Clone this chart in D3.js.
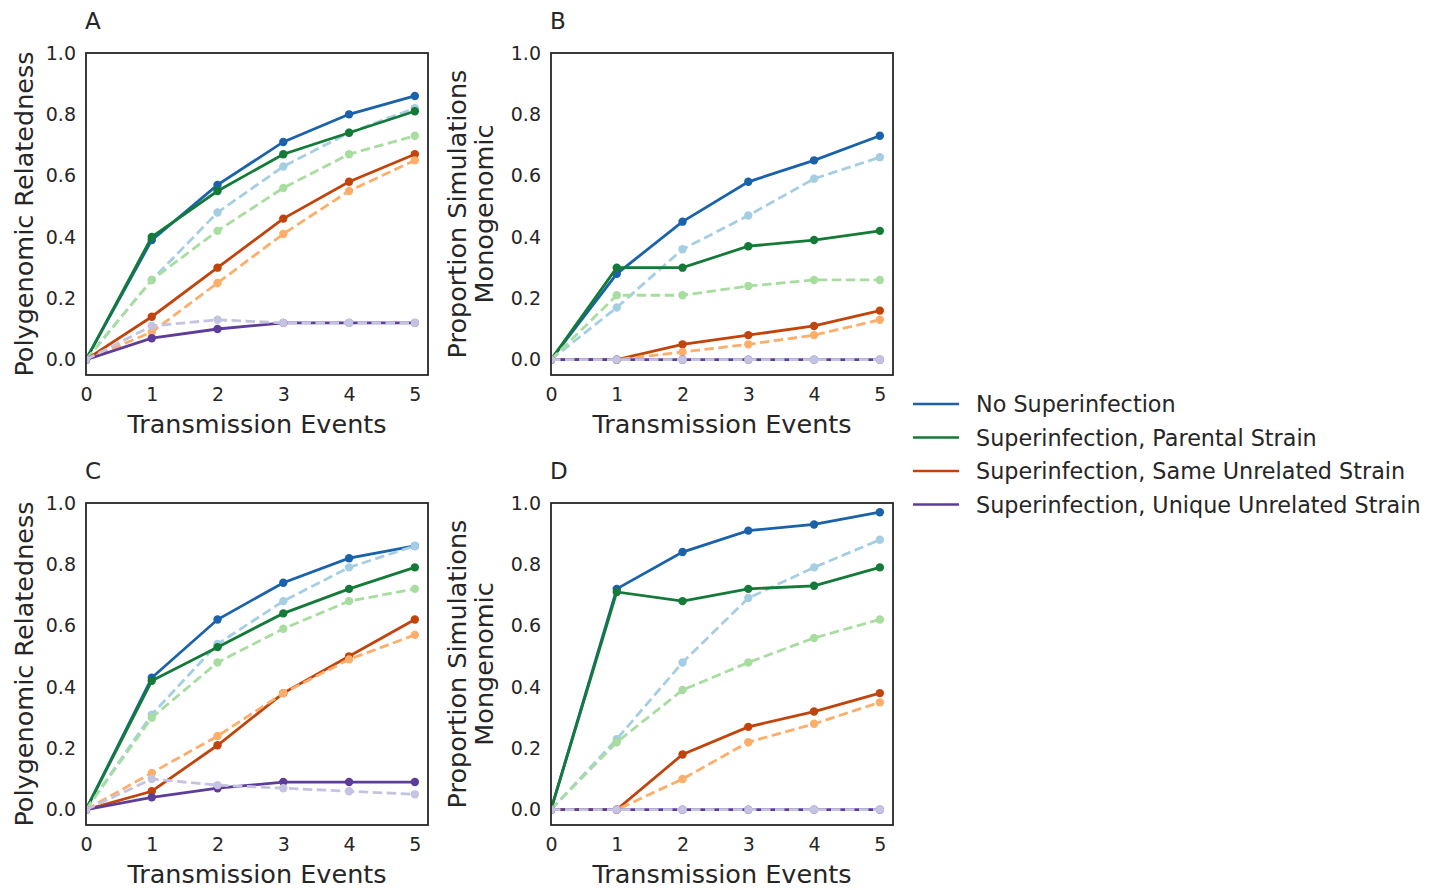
<!DOCTYPE html>
<html>
<head>
<meta charset="utf-8">
<script src="https://cdn.jsdelivr.net/npm/d3@7"></script>
<style>
  body { margin: 0; background: #fff; }
  svg text { font-family: "DejaVu Sans", sans-serif; fill: #262626; }
</style>
</head>
<body>
<div id="chart"></div>
<script>
// Transmission events on x, four superinfection scenarios per panel

const steps = [0, 1, 2, 3, 4, 5];
const xTicks = [0, 1, 2, 3, 4, 5];
const yTicks = [0, 0.2, 0.4, 0.6, 0.8, 1.0];

const scenarios = [
    "No Superinfection",
    "Superinfection, Parental Strain",
    "Superinfection, Same Unrelated Strain",
    "Superinfection, Unique Unrelated Strain"
];

// solid lines (dark) and dashed lines (light), one row per scenario
const panelA = [
    [0, 0.39, 0.57, 0.71, 0.80, 0.86],
    [0, 0.40, 0.55, 0.67, 0.74, 0.81],
    [0, 0.14, 0.30, 0.46, 0.58, 0.67],
    [0, 0.07, 0.10, 0.12, 0.12, 0.12]
];
const panelADashed = [
    [0, 0.26, 0.48, 0.63, 0.74, 0.82],
    [0, 0.26, 0.42, 0.56, 0.67, 0.73],
    [0, 0.09, 0.25, 0.41, 0.55, 0.65],
    [0, 0.11, 0.13, 0.12, 0.12, 0.12]
];
const panelB = [
    [0, 0.28, 0.45, 0.58, 0.65, 0.73],
    [0, 0.30, 0.30, 0.37, 0.39, 0.42],
    [0, 0, 0.05, 0.08, 0.11, 0.16],
    [0, 0, 0, 0, 0, 0]
];
const panelBDashed = [
    [0, 0.17, 0.36, 0.47, 0.59, 0.66],
    [0, 0.21, 0.21, 0.24, 0.26, 0.26],
    [0, 0, 0.025, 0.05, 0.08, 0.13],
    [0, 0, 0, 0, 0, 0]
];
const panelC = [
    [0, 0.43, 0.62, 0.74, 0.82, 0.86],
    [0, 0.42, 0.53, 0.64, 0.72, 0.79],
    [0, 0.06, 0.21, 0.38, 0.50, 0.62],
    [0, 0.04, 0.07, 0.09, 0.09, 0.09]
];
const panelCDashed = [
    [0, 0.31, 0.54, 0.68, 0.79, 0.86],
    [0, 0.30, 0.48, 0.59, 0.68, 0.72],
    [0, 0.12, 0.24, 0.38, 0.49, 0.57],
    [0, 0.10, 0.08, 0.07, 0.06, 0.05]
];
const panelD = [
    [0, 0.72, 0.84, 0.91, 0.93, 0.97],
    [0, 0.71, 0.68, 0.72, 0.73, 0.79],
    [0, 0, 0.18, 0.27, 0.32, 0.38],
    [0, 0, 0, 0, 0, 0]
];
const panelDDashed = [
    [0, 0.23, 0.48, 0.69, 0.79, 0.88],
    [0, 0.22, 0.39, 0.48, 0.56, 0.62],
    [0, 0, 0.10, 0.22, 0.28, 0.35],
    [0, 0, 0, 0, 0, 0]
];

const darkColors = ["#1a62aa", "#137a38", "#c0440b", "#5e3c99"];
const lightColors = ["#a6cee3", "#a8dda0", "#fdae6b", "#c5c3e2"];

const width = 1438, height = 890;

let svg = d3.select("#chart")
    .append("svg")
    .attr("width", width)
    .attr("height", height);

// panel layout
const panels = [
    {id: "A", solid: panelA, dashed: panelADashed, left: 86, top: 53, ylab: ["Polygenomic Relatedness"]},
    {id: "B", solid: panelB, dashed: panelBDashed, left: 551, top: 53, ylab: ["Proportion Simulations", "Monogenomic"]},
    {id: "C", solid: panelC, dashed: panelCDashed, left: 86, top: 503, ylab: ["Polygenomic Relatedness"]},
    {id: "D", solid: panelD, dashed: panelDDashed, left: 551, top: 503, ylab: ["Proportion Simulations", "Mongenomic"]}
];
const pw = 342, ph = 322;

panels.forEach((p, pi) => {
    let x = d3.scaleLinear().domain([0, 5.2]).range([p.left, p.left + pw]);
    let y = d3.scaleLinear().domain([-0.05, 1.0]).range([p.top + ph, p.top]);

    let g = svg.append("g");

    // clip lines to the axes box
    g.append("clipPath")
        .attr("id", "clip" + pi)
        .append("rect")
        .attr("x", p.left).attr("y", p.top)
        .attr("width", pw).attr("height", ph);

    // tick labels (no tick marks, seaborn white style)
    g.append("g")
        .attr("transform", `translate(0,${p.top + ph})`)
        .call(d3.axisBottom(x).tickValues(xTicks).tickFormat(d3.format("d")).tickSize(0).tickPadding(13))
        .call(a => a.select(".domain").remove())
        .selectAll("text")
        .style("font-size", "19px")
        .style("font-family", "DejaVu Sans");

    g.append("g")
        .attr("transform", `translate(${p.left},0)`)
        .call(d3.axisLeft(y).tickValues(yTicks).tickFormat(d3.format(".1f")).tickSize(0).tickPadding(10))
        .call(a => a.select(".domain").remove())
        .selectAll("text")
        .style("font-size", "19px")
        .style("font-family", "DejaVu Sans");

    let plot = g.append("g").attr("clip-path", `url(#clip${pi})`);

    let line = d3.line()
        .x((d, i) => x(steps[i]))
        .y(d => y(d));

    // draw each scenario: dark solid then light dashed on top
    p.solid.forEach((vals, k) => {
        [[vals, darkColors[k], null], [p.dashed[k], lightColors[k], "9.5,4.5"]].forEach(([v, col, dash]) => {
            plot.append("path")
                .datum(v)
                .attr("fill", "none")
                .attr("stroke", col)
                .attr("stroke-width", 2.8)
                .attr("stroke-dasharray", dash)
                .attr("d", line);
            plot.selectAll(null)
                .data(v)
                .join("circle")
                .attr("cx", (d, i) => x(steps[i]))
                .attr("cy", d => y(d))
                .attr("r", 4.2)
                .attr("fill", col);
        });
    });

    // axes frame
    g.append("rect")
        .attr("x", p.left).attr("y", p.top)
        .attr("width", pw).attr("height", ph)
        .attr("fill", "none")
        .attr("stroke", "#262626")
        .attr("stroke-width", 1.8);

    // panel letter
    g.append("text")
        .attr("x", p.left - 1)
        .attr("y", p.top - 24)
        .style("font-size", "23px")
        .text(p.id);

    // x label
    g.append("text")
        .attr("x", p.left + pw / 2)
        .attr("y", p.top + ph + 58)
        .attr("text-anchor", "middle")
        .style("font-size", "25.5px")
        .text("Transmission Events");

    // y label (one or two lines)
    let n = p.ylab.length;
    p.ylab.forEach((t, j) => {
        let bx = n === 1 ? p.left - 53 : p.left - 85 + j * 27;
        g.append("text")
            .attr("transform", `translate(${bx},${p.top + ph / 2}) rotate(-90)`)
            .attr("text-anchor", "middle")
            .style("font-size", "25.5px")
            .text(t);
    });
});

// legend
let legend = svg.append("g");
scenarios.forEach((s, k) => {
    let ly = 404 + k * 33.5;
    legend.append("line")
        .attr("x1", 913).attr("x2", 959)
        .attr("y1", ly).attr("y2", ly)
        .attr("stroke", darkColors[k])
        .attr("stroke-width", 2.5);
    legend.append("text")
        .attr("x", 976)
        .attr("y", ly + 8)
        .style("font-size", "22.3px")
        .text(s);
});
</script>
</body>
</html>
